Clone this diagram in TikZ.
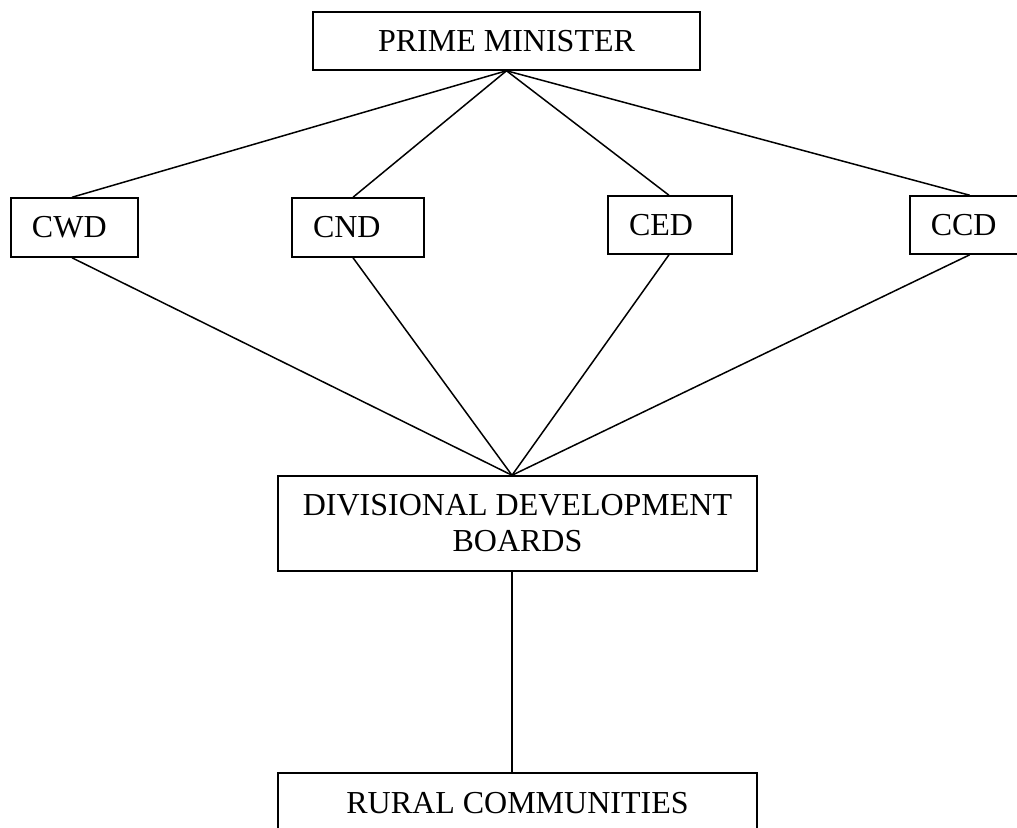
\documentclass[tikz,border=0pt]{standalone}
\usepackage{fontspec}
\setmainfont{Liberation Serif}
\usetikzlibrary{positioning, calc}

\tikzset{
  orgbox/.style={draw=black, line width=0.75pt, inner sep=0pt,
                 font=\fontsize{16}{18}\selectfont},
  unitbox/.style={orgbox, align=left, inner xsep=10.5pt, minimum height=29.5pt},
  link/.style={line width=0.75pt}
}

\begin{document}
\begin{tikzpicture}[x=0.5pt, y=-0.5pt]
    \useasboundingbox (0,0) rectangle (1017,827);
    \clip (0,0) rectangle (1017,827);
    % top level
    \node[orgbox, minimum width=193.5pt, minimum height=29pt] (pm) at (506.5,41) {PRIME MINISTER};
    % the four units
    \node[unitbox, text width=42.5pt] (cwd) at (74.5,227.5) {CWD};
    \node[unitbox, text width=45pt] (cnd) at (358,227.5) {CND};
    \node[unitbox, text width=41pt, minimum height=29pt] (ced) at (670,225) {CED};
    \node[unitbox, text width=50pt, minimum height=29pt, anchor=west] (ccd) at (909,225) {CCD};
    % boards and communities
    \node[orgbox, align=center, minimum width=239.5pt, minimum height=47.5pt] (ddb) at (517.5,523.5)
        {DIVISIONAL DEVELOPMENT\\BOARDS};
    \node[orgbox, minimum width=239.5pt, minimum height=30pt] (rural) at (517.5,803) {RURAL COMMUNITIES};

    \foreach \u/\dx in {cwd/-1.25pt, cnd/-2.5pt, ced/-0.5pt, ccd/-5.5pt} {
        \draw[link] (pm.south) -- ([xshift=\dx]\u.north);
        \draw[link] ([xshift=-2.75pt]ddb.north) -- ([xshift=\dx]\u.south);
    }
    \draw[link] ([xshift=-2.75pt]ddb.south) -- ([xshift=-2.75pt]rural.north);
\end{tikzpicture}
\end{document}
